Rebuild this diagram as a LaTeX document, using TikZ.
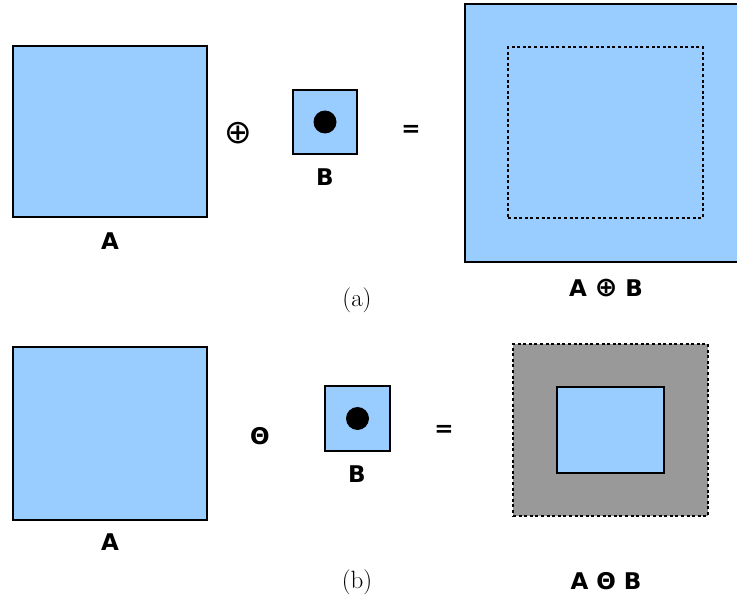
\documentclass[tikz,border=0pt]{standalone}
\usepackage{fontspec}
\newfontfamily\lblfont{DejaVu Sans}
\usepackage{xcolor}
\usepackage{tikz}
\usetikzlibrary{positioning}

\definecolor{setblue}{HTML}{99CCFF}
\definecolor{setgray}{HTML}{999999}

\newcommand{\opplus}{{\mdseries\fontsize{33}{33}\selectfont ⊕}}
\newcommand{\opplussmall}{{\fontsize{27}{27}\selectfont ⊕}}

\begin{document}
\begin{tikzpicture}[x=1pt, y=-1pt,
    block/.style={draw, rectangle, line width=1.5pt, fill=setblue, inner sep=0pt, outer sep=0pt},
    border/.style={draw, rectangle, line width=1.5pt, dash pattern=on 3pt off 2.6pt, inner sep=0pt, outer sep=0pt},
    lbl/.style={font=\lblfont\bfseries\fontsize{23}{26}\selectfont, inner sep=0pt},
    captext/.style={font=\fontsize{25}{28}\selectfont, inner sep=0pt}]

    \useasboundingbox [fill=white] (0,0) rectangle (737,602);

    % (a) dilation
    \node [block, minimum width=194pt, minimum height=171pt] (setA) at (110,131.5) {};
    \node [lbl] (labA) at (110,241) {A};
    \node [lbl] (opPlus) at (238,133) {\opplus};
    \node [block, minimum width=64pt, minimum height=64pt] (setB) at (325,122) {};
    \node [circle, fill=black, minimum size=23pt, inner sep=0pt] (dotB) at (setB.center) {};
    \node [lbl] (labB) at (325,177) {B};
    \node [lbl] (eqA) at (411,131) {=};
    \node [block, minimum width=275pt, minimum height=258pt] (dilated) at (602.5,133) {};
    \node [border, minimum width=195pt, minimum height=171pt] (orig) at (605.5,132.5) {};
    \node [lbl, anchor=base] (labDil) at (606,296) {A \opplussmall{} B};
    \node [captext] (capA) at (357,300) {(a)};

    % (b) erosion
    \node [block, minimum width=194pt, minimum height=173pt] (setA2) at (110,433.5) {};
    \node [lbl] (labA2) at (110,542) {A};
    \node [lbl] (opMinus) at (260,436) {Θ};
    \node [block, minimum width=65pt, minimum height=65pt] (setB2) at (357.5,418.5) {};
    \node [circle, fill=black, minimum size=23pt, inner sep=0pt] (dotB2) at (setB2.center) {};
    \node [lbl] (labB2) at (357,474) {B};
    \node [lbl] (eqB) at (444,431) {=};
    \node [border, fill=setgray, minimum width=195pt, minimum height=172pt] (removed) at (610.5,430) {};
    \node [block, minimum width=107pt, minimum height=86pt] (eroded) at (removed.center) {};
    \node [lbl] (labEro) at (606,581) {A Θ B};
    \node [captext] (capB) at (357,582) {(b)};
\end{tikzpicture}
\end{document}
